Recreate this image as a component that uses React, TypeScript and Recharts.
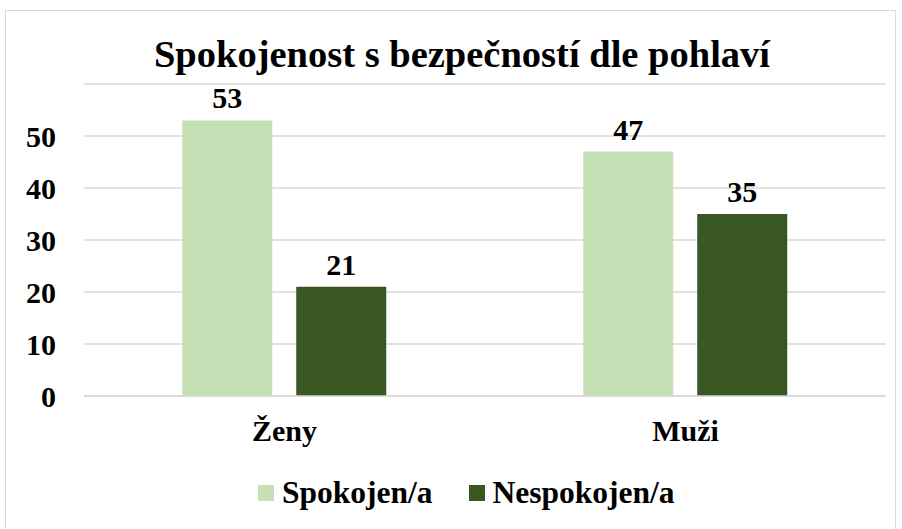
import { BarChart, Bar, XAxis, YAxis, CartesianGrid, LabelList } from 'recharts';

// Chart data
const categories = ['Ženy', 'Muži'];
const spokojeni = [53, 47];
const nespokojeni = [21, 35];
const yTicks = [0, 10, 20, 30, 40, 50];

const SERIES = [
    { key: 'spokojeni', name: 'Spokojen/a', color: '#c5e0b4' },
    { key: 'nespokojeni', name: 'Nespokojen/a', color: '#385723' },
];

const data = categories.map((name, i) => ({
    name,
    spokojeni: spokojeni[i],
    nespokojeni: nespokojeni[i],
}));

const FONT = "'Times New Roman', 'Liberation Serif', 'DejaVu Serif', serif";

export default function App() {
    return (
        <div style={{ position: 'absolute', left: 0, top: 0, width: 902, height: 529, background: '#fff', overflow: 'hidden', fontFamily: FONT }}>
            <div style={{ position: 'absolute', left: 5, top: 10, width: 891, height: 530, border: '1px solid #d9d9d9', boxSizing: 'border-box' }} />
            <div
                style={{
                    position: 'absolute',
                    left: 11,
                    top: 30,
                    width: 902,
                    textAlign: 'center',
                    fontWeight: 'bold',
                    fontSize: 38.5,
                    lineHeight: '48px',
                    color: '#000',
                    whiteSpace: 'nowrap',
                }}
            >
                Spokojenost s bezpečností dle pohlaví
            </div>
            <div style={{ position: 'absolute', left: 0, top: 0 }}>
                <BarChart
                    width={902}
                    height={529}
                    data={data}
                    margin={{ top: 84, right: 16, bottom: 0, left: 0 }}
                    barCategoryGap="24.5%"
                    barGap={24}
                >
                    <CartesianGrid vertical={false} stroke="#d9d9d9" strokeWidth={1.5} />
                    <XAxis
                        dataKey="name"
                        axisLine={{ stroke: '#d9d9d9', strokeWidth: 1.5 }}
                        tickLine={false}
                        tickSize={6}
                        tickMargin={18}
                        height={133}
                        tick={{ fontFamily: FONT, fontWeight: 'bold', fontSize: 30, fill: '#000' }}
                    />
                    <YAxis
                        width={84}
                        domain={[0, 60]}
                        ticks={yTicks}
                        axisLine={false}
                        tickLine={false}
                        tickSize={0}
                        tickMargin={28}
                        tick={{ fontFamily: FONT, fontWeight: 'bold', fontSize: 30, fill: '#000' }}
                    />
                    {SERIES.map((s) => (
                        <Bar key={s.key} dataKey={s.key} name={s.name} fill={s.color} isAnimationActive={false}>
                            <LabelList
                                dataKey={s.key}
                                position="top"
                                offset={12}
                                style={{ fontFamily: FONT, fontWeight: 'bold', fontSize: 30, fill: '#000' }}
                            />
                        </Bar>
                    ))}
                </BarChart>
            </div>
            {/* Legend */}
            <div
                style={{
                    position: 'absolute',
                    left: 258,
                    top: 475,
                    display: 'flex',
                    gap: 36,
                    fontWeight: 'bold',
                    fontSize: 31.5,
                    lineHeight: '36px',
                    color: '#000',
                    whiteSpace: 'nowrap',
                }}
            >
                {SERIES.map((s) => (
                    <div key={s.key} style={{ display: 'flex', alignItems: 'center', gap: 8 }}>
                        <div style={{ width: 16, height: 16, background: s.color }} />
                        <span>{s.name}</span>
                    </div>
                ))}
            </div>
        </div>
    );
}
